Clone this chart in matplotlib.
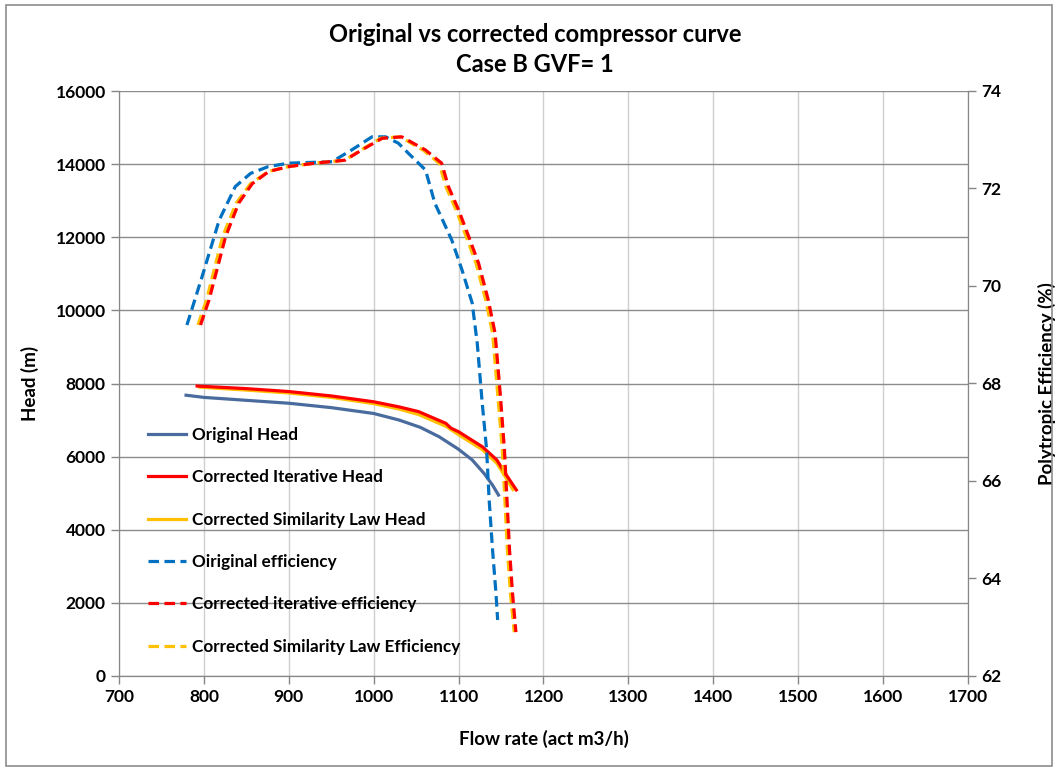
import matplotlib.pyplot as plt
from matplotlib.lines import Line2D
from matplotlib.patches import Rectangle

plt.rcParams['font.family'] = ['Lato', 'DejaVu Sans']
plt.rcParams['font.weight'] = 'bold'

# head curves (left axis)
flow_orig_head = [779, 800, 850, 900, 950, 1000, 1030, 1055, 1077, 1100, 1116, 1130, 1140, 1147]
orig_head = [7680, 7620, 7540, 7460, 7340, 7180, 7000, 6800, 6545, 6200, 5910, 5540, 5220, 4950]

flow_iter_head = [792, 850, 900, 950, 1000, 1030, 1053, 1085, 1091, 1100, 1115, 1128, 1145, 1155, 1168]
iter_head = [7930, 7860, 7780, 7660, 7500, 7360, 7230, 6910, 6780, 6680, 6460, 6270, 5910, 5540, 5090]

flow_sim_head = [795, 850, 900, 950, 1000, 1030, 1053, 1085, 1100, 1128, 1145, 1155, 1164]
sim_head = [7900, 7820, 7740, 7620, 7450, 7300, 7150, 6830, 6600, 6190, 5820, 5450, 5100]

# efficiency curves (right axis)
flow_orig_eff = [780, 798, 818, 837, 855, 876, 900, 951, 974, 998, 1014, 1029, 1041, 1061, 1072,
                 1092, 1104, 1116, 1122, 1127.5, 1133, 1136, 1140, 1144, 1146]
orig_eff = [69.2, 70.2, 71.35, 72.04, 72.31, 72.45, 72.52, 72.55, 72.79, 73.06, 73.06, 72.93, 72.72,
            72.38, 71.7, 70.94, 70.33, 69.65, 68.82, 67.66, 66.64, 65.61, 64.58, 63.7, 63.15]

flow_iter_eff = [796, 806, 825.5, 841, 857, 876.5, 900, 931, 966, 986, 1010, 1033, 1061, 1080, 1088,
                 1100, 1112, 1123.5, 1135, 1143, 1149, 1154, 1157, 1160, 1163.5, 1167.5]
iter_eff = [69.2, 69.71, 71.01, 71.7, 72.1, 72.35, 72.45, 72.52, 72.58, 72.79, 73.03, 73.06, 72.79,
            72.52, 72.04, 71.56, 71.01, 70.47, 69.71, 69.03, 67.8, 66.64, 65.61, 64.58, 63.7, 62.9]

flow_sim_eff = [793, 803, 822, 838, 855, 876, 900, 931, 966, 985, 1008, 1031, 1058, 1077, 1085,
                1097, 1109, 1120.5, 1132, 1140, 1146, 1151.5, 1154.5, 1157.5, 1161, 1165.5]
sim_eff = [69.2, 69.71, 71.01, 71.7, 72.1, 72.35, 72.45, 72.52, 72.58, 72.79, 73.03, 73.06, 72.79,
           72.52, 72.04, 71.56, 71.01, 70.47, 69.71, 69.03, 67.8, 66.64, 65.61, 64.58, 63.7, 62.9]

x_ticks = list(range(700, 1701, 100))
head_ticks = list(range(0, 16001, 2000))
eff_ticks = list(range(62, 75, 2))

c_orig_head = '#4A6B9D'
c_red = '#FF0000'
c_yel = '#FFC000'
c_blue = '#0070C0'

fig = plt.figure(figsize=(10.58, 7.71), dpi=100)
ax = fig.add_axes([119/1058, 1-676/771, (968-119)/1058, (676-91)/771])
ax2 = ax.twinx()

# grid
ax.set_axisbelow(True)
ax.grid(axis='y', color='#8C8C8C', lw=1.0)
ax.grid(axis='x', color='#CFCFCF', lw=1.0)

lw = 2.3
ax.plot(flow_orig_head, orig_head, color=c_orig_head, lw=lw)
ax.plot(flow_sim_head, sim_head, color=c_yel, lw=lw)
ax.plot(flow_iter_head, iter_head, color=c_red, lw=lw)

elw = 2.3
dash = (3.3, 1.7)
ax2.plot(flow_orig_eff, orig_eff, color=c_blue, lw=elw, dashes=dash)
ax2.plot(flow_sim_eff, sim_eff, color=c_yel, lw=elw, dashes=dash)
ax2.plot(flow_iter_eff, iter_eff, color=c_red, lw=elw, dashes=dash)

ax.set_xlim(700, 1700)
ax.set_ylim(0, 16000)
ax2.set_ylim(62, 74)
ax.set_xticks(x_ticks)
ax.set_yticks(head_ticks)
ax2.set_yticks(eff_ticks)

for a in (ax, ax2):
    a.tick_params(labelsize=12.5, length=6, color='#868686', width=1)
    for s in a.spines.values():
        s.set_color('#868686')
    a.spines['top'].set_visible(False)
    plt.setp(a.get_xticklabels() + a.get_yticklabels(), fontweight='bold')

ax.set_xlabel('Flow rate (act m3/h)', fontsize=13.5, fontweight='bold', labelpad=18)
ax.set_ylabel('Head (m)', fontsize=13.5, fontweight='bold', labelpad=12)
ax2.set_ylabel('Polytropic Efficiency (%)', fontsize=13.5, fontweight='bold', labelpad=26)

fig.text(535/1058, 1-34/771, 'Original vs corrected compressor curve', ha='center', va='center',
         fontsize=17, fontweight='bold')
fig.text(535/1058, 1-64/771, 'Case B GVF= 1', ha='center', va='center',
         fontsize=17, fontweight='bold')

handles = [
    Line2D([], [], color=c_orig_head, lw=lw),
    Line2D([], [], color=c_red, lw=lw),
    Line2D([], [], color=c_yel, lw=lw),
    Line2D([], [], color=c_blue, lw=elw, dashes=dash),
    Line2D([], [], color=c_red, lw=elw, dashes=dash),
    Line2D([], [], color=c_yel, lw=elw, dashes=dash),
]
labels = ['Original Head', 'Corrected Iterative Head', 'Corrected Similarity Law Head',
          'Oiriginal efficiency', 'Corrected iterative efficiency',
          'Corrected Similarity Law Efficiency']
fig.legend(handles, labels, loc='upper left', bbox_to_anchor=(148/1058, 1-427/771),
           frameon=False, fontsize=12.3, borderpad=0, handlelength=2.2, handletextpad=0.4,
           labelspacing=1.54, borderaxespad=0)

fig.patches.append(Rectangle((6/1058, 5/771), 1-12/1058, 1-10/771, transform=fig.transFigure,
                             fill=False, edgecolor='#8C8C8C', lw=1.2))

fig.savefig('out.png', dpi=100)
